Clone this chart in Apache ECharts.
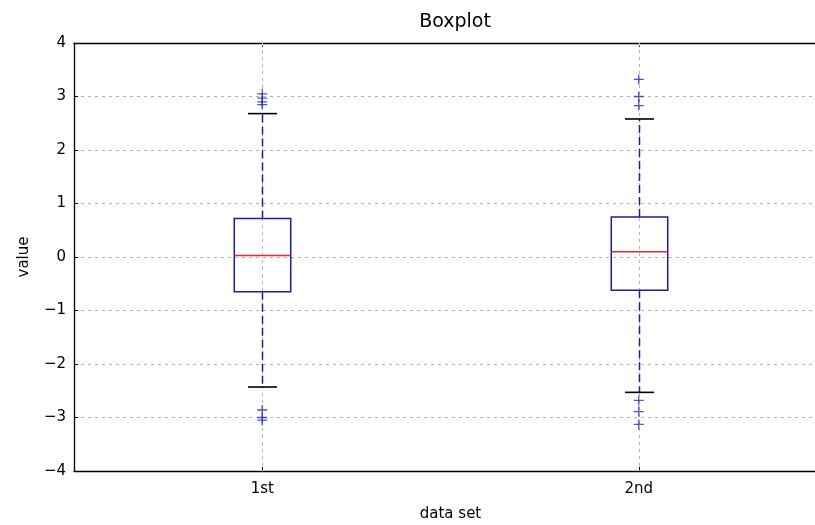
<!DOCTYPE html>
<html>
<head>
<meta charset="utf-8">
<script src="https://cdn.jsdelivr.net/npm/echarts@6/dist/echarts.min.js"></script>
<style>html,body{margin:0;padding:0;background:#fff}#c{width:815px;height:525px}</style>
</head>
<body>
<div id="c"></div>
<script>
// ---- data ----
const categories = ['1st', '2nd'];
const whiskerLow  = [-2.43, -2.53];
const q1          = [-0.65, -0.62];
const median      = [0.03, 0.10];
const q3          = [0.72, 0.75];
const whiskerHigh = [2.68, 2.58];
const fliers1st = [3.05, 2.97, 2.90, 2.85, -2.86, -3.00, -3.05];
const fliers2nd = [3.32, 3.00, 2.83, -2.68, -2.89, -3.13];
const yMin = -4, yMax = 4, yStep = 1;
const titleText = 'Boxplot';
const xLabel = 'data set';
const yLabel = 'value';

const FONT = 'DejaVu Sans';
const BLUE = '#1e1e96';
const boxData = categories.map((c, i) => [i, whiskerLow[i], q1[i], median[i], q3[i], whiskerHigh[i]]);
const flierData = [];
fliers1st.forEach(v => flierData.push([0, v]));
fliers2nd.forEach(v => flierData.push([1, v]));

const chart = echarts.init(document.getElementById('c'), null, {renderer: 'canvas'});
chart.setOption({
  animation: false,
  backgroundColor: '#fff',
  title: {
    text: titleText, left: 450, top: 8, textAlign: 'center',
    textStyle: {fontFamily: FONT, fontSize: 19, fontWeight: 'normal', color: '#000'}
  },
  grid: {left: 74, top: 43, right: -12, bottom: 54, show: false,
    containLabel: false, outerBoundsMode: 'none'},
  xAxis: [{
    type: 'category', data: categories, boundaryGap: true, position: 'bottom',
    name: xLabel, nameLocation: 'middle', nameGap: 36,
    nameTextStyle: {fontFamily: FONT, fontSize: 15, color: '#000'},
    axisLine: {show: true, onZero: false, lineStyle: {color: '#000', width: 1.3}},
    axisTick: {show: true, inside: true, alignWithLabel: true, length: 4, lineStyle: {color: '#000'}},
    axisLabel: {fontFamily: FONT, fontSize: 15, color: '#000', margin: 11},
    splitLine: {show: false}
  }, {
    type: 'category', data: categories, boundaryGap: true, position: 'top',
    axisLine: {show: true, onZero: false, lineStyle: {color: '#000', width: 1.3}},
    axisTick: {show: true, inside: true, alignWithLabel: true, length: 4, lineStyle: {color: '#000'}},
    axisLabel: {show: false}, splitLine: {show: false}
  }],
  yAxis: {
    type: 'value', min: yMin, max: yMax, interval: yStep,
    name: yLabel, nameLocation: 'middle', nameRotate: 90, nameGap: 42,
    nameTextStyle: {fontFamily: FONT, fontSize: 15, color: '#000'},
    axisLine: {show: true, onZero: false, lineStyle: {color: '#000', width: 1.3}},
    axisTick: {show: true, inside: true, length: 4, lineStyle: {color: '#000'}},
    axisLabel: {fontFamily: FONT, fontSize: 15, color: '#000', margin: 8,
      formatter: v => (v < 0 ? '\u2212' + Math.abs(v) : String(v))},
    splitLine: {show: true, showMinLine: false, showMaxLine: false,
      lineStyle: {color: '#b4b4b4', width: 1, type: [3, 4]}}
  },
  series: [{
    type: 'custom',
    data: boxData,
    encode: {x: 0, y: [1, 2, 3, 4, 5]},
    z: 2,
    clip: false,
    renderItem: function (params, api) {
      const idx = api.value(0);
      const band = api.size([1, 0])[0];
      const hw = band * 0.075, cw = band * 0.0385;
      const pLow = api.coord([idx, api.value(1)]);
      const pQ1 = api.coord([idx, api.value(2)]);
      const pMed = api.coord([idx, api.value(3)]);
      const pQ3 = api.coord([idx, api.value(4)]);
      const pHigh = api.coord([idx, api.value(5)]);
      const pTop = api.coord([idx, yMax]);
      const pBot = api.coord([idx, yMin]);
      const x = Math.round(pMed[0]) + 0.5;
      return {
        type: 'group',
        children: [
          {type: 'line', shape: {x1: x, y1: pTop[1], x2: x, y2: pBot[1]},
            style: {stroke: '#b4b4b4', lineWidth: 1, lineDash: [3, 4], fill: null}},
          {type: 'line', shape: {x1: x, y1: pQ3[1], x2: x, y2: pHigh[1]},
            style: {stroke: BLUE, lineWidth: 1.5, lineDash: [8, 4], fill: null}},
          {type: 'line', shape: {x1: x, y1: pQ1[1], x2: x, y2: pLow[1]},
            style: {stroke: BLUE, lineWidth: 1.5, lineDash: [8, 4], fill: null}},
          {type: 'line', shape: {x1: x - cw, y1: pHigh[1], x2: x + cw, y2: pHigh[1]},
            style: {stroke: '#000', lineWidth: 1.6, fill: null}},
          {type: 'line', shape: {x1: x - cw, y1: pLow[1], x2: x + cw, y2: pLow[1]},
            style: {stroke: '#000', lineWidth: 1.6, fill: null}},
          {type: 'rect', shape: {x: x - hw, y: pQ3[1], width: 2 * hw, height: pQ1[1] - pQ3[1]},
            style: {stroke: BLUE, lineWidth: 1.5, fill: null}},
          {type: 'line', shape: {x1: x - hw, y1: pMed[1], x2: x + hw, y2: pMed[1]},
            style: {stroke: '#e8282c', lineWidth: 1.5, fill: null}}
        ]
      };
    }
  }, {
    type: 'scatter',
    data: flierData,
    z: 3,
    symbol: 'path://M5,0 L5,10 M0,5 L10,5',
    symbolSize: 10,
    itemStyle: {color: 'none', borderColor: '#2525c0', borderWidth: 1.3},
    emphasis: {disabled: true}
  }]
});
</script>
</body>
</html>
